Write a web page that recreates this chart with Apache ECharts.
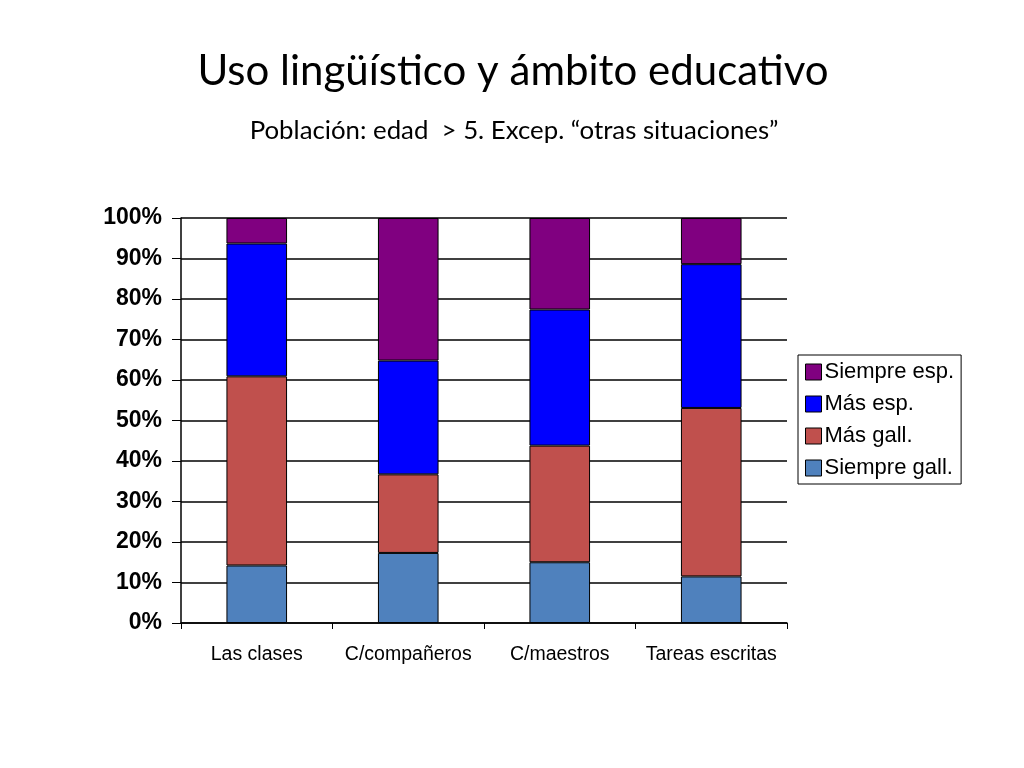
<!DOCTYPE html>
<html lang="es">
<head>
  <meta charset="UTF-8">
  <title>Uso lingüístico y ámbito educativo</title>
  <script src="https://cdn.jsdelivr.net/npm/echarts@6.0.0/dist/echarts.min.js"></script>
  <style>
    body { margin: 0; padding: 0; background: #fff; }
    #chart { width: 1024px; height: 768px; }
  </style>
</head>
<body>
<div id="chart"></div>
<script>
  // categorías y valores (%)
  const categories = ['Las clases', 'C/compañeros', 'C/maestros', 'Tareas escritas'];
  const siempreGall = [14.2, 17.3, 15.0, 11.5];
  const masGall = [46.7, 19.4, 28.8, 41.6];
  const masEsp = [32.8, 28.1, 33.6, 35.5];
  const siempreEsp = [6.3, 35.2, 22.6, 11.4];

  const chart = echarts.init(document.getElementById('chart'));

  const barStyle = color => ({ color: color, borderColor: '#000', borderWidth: 1 });

  const option = {
    backgroundColor: '#fff',
    animation: false,
    title: [
      {
        text: 'Uso lingüístico y ámbito educativo',
        left: 508,
        textAlign: 'center',
        top: 45,
        textStyle: { fontFamily: 'Lato', fontWeight: 'normal', fontSize: 42, color: '#000' }
      },
      {
        text: 'Población: edad  > 5. Excep. “otras situaciones”',
        left: 509,
        textAlign: 'center',
        top: 113,
        textStyle: { fontFamily: 'Lato', fontWeight: 'normal', fontSize: 25.8, color: '#000' }
      }
    ],
    legend: {
      orient: 'vertical',
      left: 798,
      top: 355,
      data: ['Siempre esp.', 'Más esp.', 'Más gall.', 'Siempre gall.'],
      icon: 'rect',
      itemWidth: 16,
      itemHeight: 16,
      itemGap: 10,
      padding: [6, 7, 5, 7],
      borderColor: '#000',
      borderWidth: 1,
      textStyle: { fontFamily: 'Liberation Sans', fontSize: 22, color: '#000', padding: [0, 0, 0, -2] },
      itemStyle: { borderColor: '#000', borderWidth: 1 }
    },
    grid: { left: 181, right: 237, top: 218, bottom: 145 },
    xAxis: {
      type: 'category',
      data: categories,
      axisLine: { lineStyle: { color: '#000', width: 1.5 } },
      axisTick: { show: true, length: 6, lineStyle: { color: '#000' } },
      axisLabel: { interval: 0, margin: 22, fontFamily: 'Liberation Sans', fontSize: 19.5, color: '#000' }
    },
    yAxis: {
      type: 'value',
      min: 0,
      max: 100,
      interval: 10,
      axisLine: { show: true, lineStyle: { color: '#000', width: 1.5 } },
      axisTick: { show: true, length: 9, lineStyle: { color: '#000' } },
      axisLabel: { formatter: '{value}%', margin: 19, fontFamily: 'Liberation Sans', fontWeight: 'bold', fontSize: 23, color: '#000' },
      splitLine: { show: true, lineStyle: { color: '#000', width: 1.5 } }
    },
    series: [
      { name: 'Siempre gall.', type: 'bar', stack: 'total', barWidth: '40%', data: siempreGall, itemStyle: barStyle('#4f81bd') },
      { name: 'Más gall.', type: 'bar', stack: 'total', data: masGall, itemStyle: barStyle('#c0504d') },
      { name: 'Más esp.', type: 'bar', stack: 'total', data: masEsp, itemStyle: barStyle('#0000ff') },
      { name: 'Siempre esp.', type: 'bar', stack: 'total', data: siempreEsp, itemStyle: barStyle('#800080') }
    ]
  };

  chart.setOption(option);
</script>
</body>
</html>
